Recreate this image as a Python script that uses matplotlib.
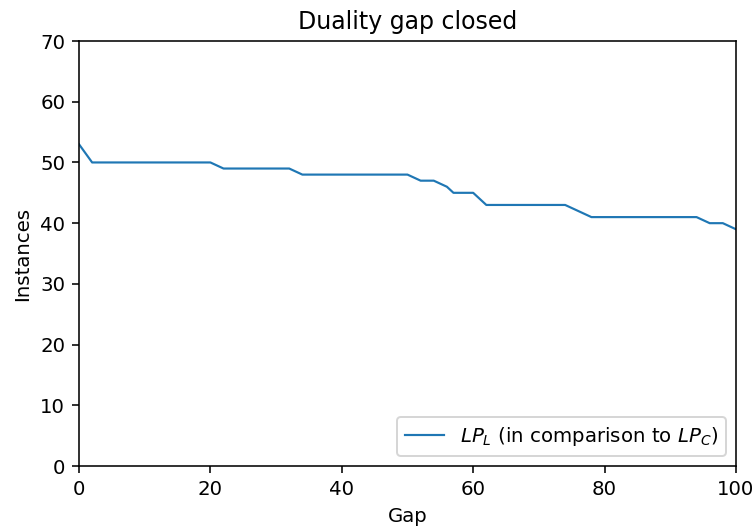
#!/usr/bin/env python3
"""Duality gap closed: instances vs. gap for LP_L compared to LP_C."""

import matplotlib
matplotlib.use("Agg")
import matplotlib.pyplot as plt

# ---------------------------------------------------------------------------
# Data
# ---------------------------------------------------------------------------
GAP = [0, 2, 20, 22, 32, 34, 50, 52, 54, 56, 57, 60, 62, 74, 78, 94, 96, 98, 100]
INSTANCES = [53, 50, 50, 49, 49, 48, 48, 47, 47, 46, 45, 45, 43, 43, 41, 41, 40, 40, 39]
LABEL = r"$LP_L$ (in comparison to $LP_C$)"

DPI = 142

plt.rcParams.update({
    "font.family": "DejaVu Sans",
    "font.size": 10,
    "mathtext.fontset": "dejavusans",
})


def main():
    fig = plt.figure(figsize=(756 / DPI, 526 / DPI), dpi=DPI)
    ax = fig.add_axes([0.1045, 0.114, 0.869, 0.808])

    ax.plot(GAP, INSTANCES, color="#1f77b4", linewidth=1.1, label=LABEL)

    ax.set_xlim(0, 100)
    ax.set_ylim(0, 70)
    ax.set_xticks([0, 20, 40, 60, 80, 100])
    ax.set_yticks(range(0, 71, 10))
    ax.set_xlabel("Gap")
    ax.set_ylabel("Instances")
    ax.set_title("Duality gap closed")
    ax.legend(loc="lower right")

    fig.savefig("out.png", dpi=DPI)
    plt.close(fig)


if __name__ == "__main__":
    main()
